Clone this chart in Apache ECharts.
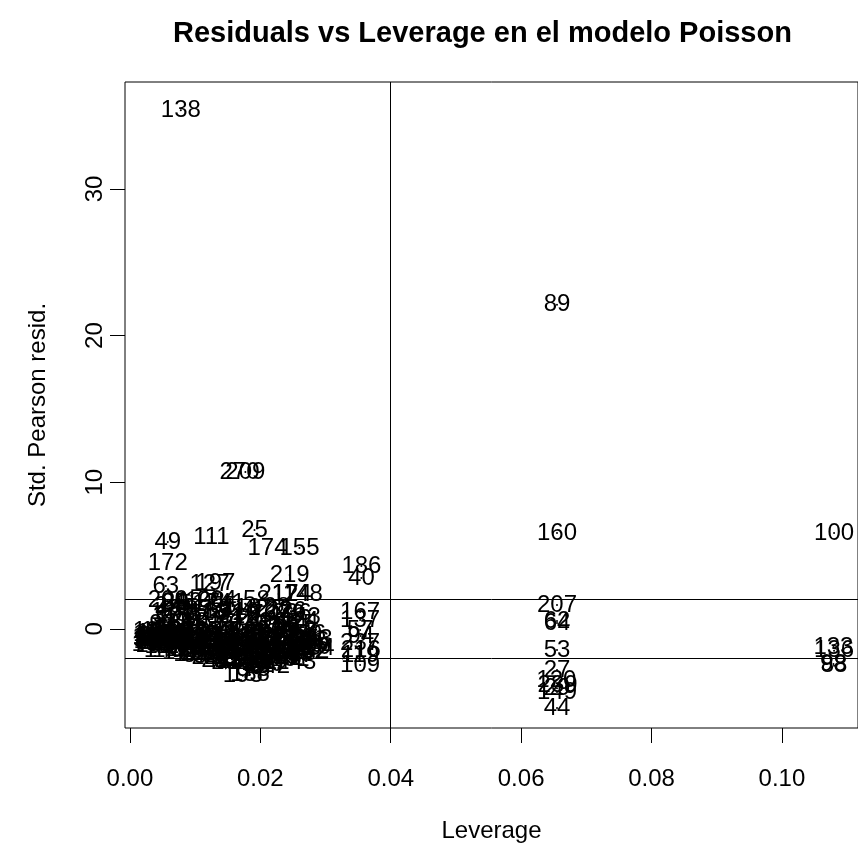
<!DOCTYPE html>
<html>
<head>
<meta charset="utf-8">
<script src="https://cdn.jsdelivr.net/npm/echarts@6/dist/echarts.min.js"></script>
<style>
  html, body { margin: 0; padding: 0; background: #fff; }
  #chart { width: 858px; height: 850px; }
</style>
</head>
<body>
<div id="chart"></div>
<script>
// Observations that stand apart from the main cloud
const flaggedIds = [138, 89, 270, 209, 49, 111, 25, 174, 155, 172, 186, 40, 219, 63, 127, 197,
  217, 124, 148, 58, 126, 236, 24, 200, 202, 204, 241, 22, 193, 188, 243,
  167, 137, 57, 94, 237, 216, 119, 109,
  160, 207, 62, 64, 53, 27, 120, 239, 29, 149, 44,
  100, 133, 136, 98, 88];
const flaggedLev = [0.0078, 0.0655, 0.0168, 0.0177, 0.0058, 0.0125, 0.0191, 0.0211, 0.0260, 0.0058, 0.0355, 0.0355, 0.0245, 0.0055, 0.0122, 0.0131,
  0.0228, 0.0248, 0.0265, 0.0194, 0.0240, 0.0248, 0.0269, 0.0058, 0.0080, 0.0133, 0.0146, 0.0156, 0.0173, 0.0184, 0.0255,
  0.0353, 0.0353, 0.0353, 0.0354, 0.0353, 0.0354, 0.0353, 0.0353,
  0.0655, 0.0655, 0.0655, 0.0655, 0.0655, 0.0655, 0.0654, 0.0656, 0.0655, 0.0655, 0.0655,
  0.1080, 0.1079, 0.1080, 0.1079, 0.1080];
const flaggedRes = [35.37, 22.10, 10.70, 10.70, 5.92, 6.26, 6.74, 5.51, 5.51, 4.49, 4.28, 3.46, 3.67, 2.92, 3.05, 3.10,
  2.37, 2.37, 2.37, 1.96, 1.20, 1.07, 0.53, 1.96, 1.82, 1.96, 1.75, -1.96, -3.20, -3.14, -2.26,
  1.15, 0.60, -0.08, -0.49, -0.97, -1.45, -1.80, -2.47,
  6.54, 1.62, 0.53, 0.40, -1.45, -2.81, -3.49, -3.83, -4.05, -4.31, -5.40,
  6.54, -1.24, -1.50, -2.40, -2.53];

// Main cloud of low-leverage observations
const cloudIds = [
  1, 12, 31, 47, 68, 83, 96, 105, 114, 131, 150, 163, 178, 190, 205, 224,
  2, 13, 33, 48, 70, 85, 97, 106, 115, 132, 151, 164, 179, 191, 206, 225, 3, 14, 34, 50, 71, 86, 99, 107,
  4, 15, 35, 51, 72, 87, 101, 108, 116, 134, 152, 165, 180, 192, 208, 226, 5, 16, 36, 52, 73, 90, 102, 110, 117, 135, 153, 166, 181, 194, 210, 227, 6, 17, 37, 54,
  7, 18, 38, 55, 74, 91, 103, 112, 118, 139, 154, 168, 182, 195, 211, 228, 8, 19, 39, 56, 75, 92, 104, 113, 121, 140, 156, 169, 183, 196, 212, 229, 9, 20, 41,
  10, 21, 42, 59, 76, 93, 122, 141, 157, 170, 184, 198, 213, 230, 11, 23, 43, 60, 77, 95, 123, 142, 158, 171, 185, 199, 214, 231, 26, 45, 61, 78,
  28, 46, 65, 79, 125, 143, 159, 173, 187, 201, 215, 232, 30, 66, 80, 128, 144, 161, 175, 189, 203, 218, 233, 32, 67, 81, 129, 146, 162, 176, 220,
  130, 145, 147, 177, 221, 222, 223, 234, 235, 238, 240, 242, 244, 246, 247, 248, 249, 250, 251, 252, 253, 254];
const cloudLev = [
  0.0022, 0.0024, 0.0025, 0.0027, 0.0028, 0.0030, 0.0031, 0.0033, 0.0034, 0.0036, 0.0037, 0.0039, 0.0040, 0.0042, 0.0043, 0.0045,
  0.0048, 0.0052, 0.0056, 0.0060, 0.0064, 0.0068, 0.0050, 0.0070, 0.0046, 0.0049, 0.0051, 0.0053, 0.0055, 0.0058, 0.0060, 0.0062, 0.0064, 0.0066, 0.0068, 0.0070, 0.0072, 0.0074, 0.0057, 0.0071,
  0.0078, 0.0085, 0.0090, 0.0095, 0.0100, 0.0105, 0.0110, 0.0115, 0.0120, 0.0082, 0.0112, 0.0077, 0.0079, 0.0081, 0.0083, 0.0086, 0.0088, 0.0091, 0.0093, 0.0095, 0.0097, 0.0099, 0.0102, 0.0104, 0.0106, 0.0108, 0.0110, 0.0113, 0.0115, 0.0117, 0.0119, 0.0121, 0.0123, 0.0087, 0.0101, 0.0118,
  0.0128, 0.0133, 0.0138, 0.0143, 0.0150, 0.0156, 0.0162, 0.0168, 0.0172, 0.0126, 0.0128, 0.0130, 0.0132, 0.0135, 0.0137, 0.0139, 0.0141, 0.0143, 0.0146, 0.0148, 0.0150, 0.0152, 0.0154, 0.0157, 0.0159, 0.0161, 0.0163, 0.0165, 0.0167, 0.0169, 0.0171, 0.0173, 0.0174, 0.0145, 0.0134,
  0.0178, 0.0185, 0.0192, 0.0198, 0.0205, 0.0212, 0.0218, 0.0176, 0.0178, 0.0180, 0.0182, 0.0184, 0.0186, 0.0188, 0.0190, 0.0192, 0.0194, 0.0196, 0.0198, 0.0200, 0.0202, 0.0204, 0.0206, 0.0208, 0.0210, 0.0212, 0.0214, 0.0216, 0.0218, 0.0187, 0.0201, 0.0195,
  0.0225, 0.0232, 0.0240, 0.0248, 0.0255, 0.0262, 0.0228, 0.0222, 0.0224, 0.0227, 0.0229, 0.0231, 0.0234, 0.0236, 0.0238, 0.0241, 0.0243, 0.0245, 0.0247, 0.0250, 0.0252, 0.0255, 0.0257, 0.0260, 0.0262, 0.0265, 0.0267, 0.0270, 0.0272, 0.0275, 0.0278,
  0.0035, 0.0052, 0.0065, 0.0080, 0.0090, 0.0125, 0.0140, 0.0155, 0.0180, 0.0195, 0.0205, 0.0215, 0.0225, 0.0233, 0.0240, 0.0250, 0.0258, 0.0264, 0.0270, 0.0275, 0.0280, 0.0283];
const cloudRes = [
  -0.45, -0.62, -0.80, -0.35, -0.95, -0.55, -0.70, -1.05, -0.40, -0.85, -0.60, -1.15, -0.30, -0.75, -0.95, -0.50,
  1.55, 1.10, 0.85, 1.30, 0.55, 1.75, 0.30, 0.95, -0.20, -0.65, -0.90, -1.20, -0.45, -0.75, -1.00, -0.30, -1.25, -0.60, -0.85, -1.10, -0.40, -0.95, -0.05, -0.15,
  1.85, 1.40, 0.95, 1.65, 0.70, 1.25, 0.45, 1.90, 1.05, 0.35, 0.20, -0.35, -0.80, -1.20, -0.55, -1.40, -0.25, -0.95, -1.55, -0.65, -1.10, -0.40, -1.35, -0.75, -1.65, -0.20, -1.00, -1.45, -0.55, -1.25, -0.85, -1.70, -0.35, -1.75, -1.80, -1.90,
  1.75, 1.20, 0.80, 1.55, 0.60, 1.05, 0.30, 0.85, 1.40, -0.45, -0.90, -1.30, -0.20, -1.60, -0.70, -1.15, -1.85, -0.40, -1.00, -1.45, -0.15, -2.00, -0.80, -1.25, -0.50, -1.70, -2.20, -0.95, -0.30, -1.40, -2.05, -0.65, -1.10, -2.30, -2.10,
  1.15, 0.70, 1.35, 0.45, 0.95, 0.25, 1.25, -0.40, -0.95, -1.50, -2.10, -0.20, -1.20, -1.75, -0.65, -2.35, -1.00, -0.35, -1.55, -2.00, -0.80, -1.30, -0.10, -1.85, -0.55, -1.10, -2.25, -0.75, -1.60, -2.60, -2.50, -2.80,
  1.45, 0.85, 0.40, 1.00, 0.30, 0.75, 0.15, -0.30, -0.85, -1.40, -1.95, -0.55, -1.15, -0.15, -1.70, -0.75, -1.30, -2.10, -0.45, -1.00, -1.55, -0.20, -0.90, -1.35, -1.80, -0.60, -1.15, -0.35, -1.60, -0.85, -1.25,
  -0.20, -1.45, -1.50, -1.60, -0.10, -1.95, -2.15, -1.95, -2.30, -1.95, -2.40, -2.55, -1.65, -2.05, -1.45, -1.75, -1.15, -0.40, -0.95, -1.55, -0.70, -1.35];

// Axis ticks and the Pearson-residual guide lines
const xTicks = [0, 0.02, 0.04, 0.06, 0.08, 0.10];
const yTicks = [0, 10, 20, 30];
const residBand = [2, -2];
const leverageCut = 0.04;

const FONT = '"Liberation Sans", Arial, Helvetica, sans-serif';

const points = [];
flaggedIds.forEach((id, i) => points.push([flaggedLev[i], flaggedRes[i], id]));
cloudIds.forEach((id, i) => points.push([cloudLev[i], cloudRes[i], id]));

const chart = echarts.init(document.getElementById('chart'), null, { renderer: 'canvas' });
chart.setOption({
  animation: false,
  backgroundColor: '#ffffff',
  title: {
    text: 'Residuals vs Leverage en el modelo Poisson',
    left: 173,
    top: 19,
    padding: 0,
    textStyle: { fontFamily: FONT, fontSize: 29, fontWeight: 'bold', color: '#000' }
  },
  grid: {
    left: 125, top: 82, width: 735, height: 646,
    show: true, borderColor: '#000', borderWidth: 1, backgroundColor: 'transparent'
  },
  xAxis: {
    type: 'value',
    min: -0.00076,
    max: 0.11167,
    name: 'Leverage',
    nameLocation: 'middle',
    nameGap: 91,
    nameTextStyle: { fontFamily: FONT, fontSize: 24, color: '#000' },
    axisLine: { show: false, onZero: false },
    splitLine: { show: false },
    axisTick: {
      show: true, inside: false, length: 15, customValues: xTicks,
      lineStyle: { color: '#000', width: 1 }
    },
    axisLabel: {
      show: true, customValues: xTicks, margin: 39,
      fontFamily: FONT, fontSize: 24, color: '#000',
      formatter: v => v.toFixed(2)
    }
  },
  yAxis: {
    type: 'value',
    min: -6.77,
    max: 37.3,
    name: 'Std. Pearson resid.',
    nameLocation: 'middle',
    nameRotate: 90,
    nameGap: 75,
    nameTextStyle: { fontFamily: FONT, fontSize: 24, color: '#000' },
    axisLine: { show: false, onZero: false },
    splitLine: { show: false },
    axisTick: {
      show: true, inside: false, length: 15, customValues: yTicks,
      lineStyle: { color: '#000', width: 1 }
    },
    axisLabel: {
      show: true, customValues: yTicks, rotate: 90, margin: 18,
      fontFamily: FONT, fontSize: 24, color: '#000',
      formatter: v => String(v)
    }
  },
  series: [{
    type: 'scatter',
    data: points,
    symbol: 'circle',
    symbolSize: 2,
    itemStyle: { color: '#000', opacity: 1 },
    label: {
      show: true,
      position: 'inside',
      formatter: p => String(p.value[2]),
      fontFamily: FONT,
      fontSize: 24,
      color: '#000',
      opacity: 1
    },
    emphasis: { disabled: true },
    markLine: {
      silent: true,
      symbol: 'none',
      label: { show: false },
      lineStyle: { color: '#000', width: 1, type: 'solid', opacity: 1 },
      data: [
        { xAxis: leverageCut },
        { yAxis: residBand[0] },
        { yAxis: residBand[1] }
      ]
    }
  }]
});
</script>
</body>
</html>
